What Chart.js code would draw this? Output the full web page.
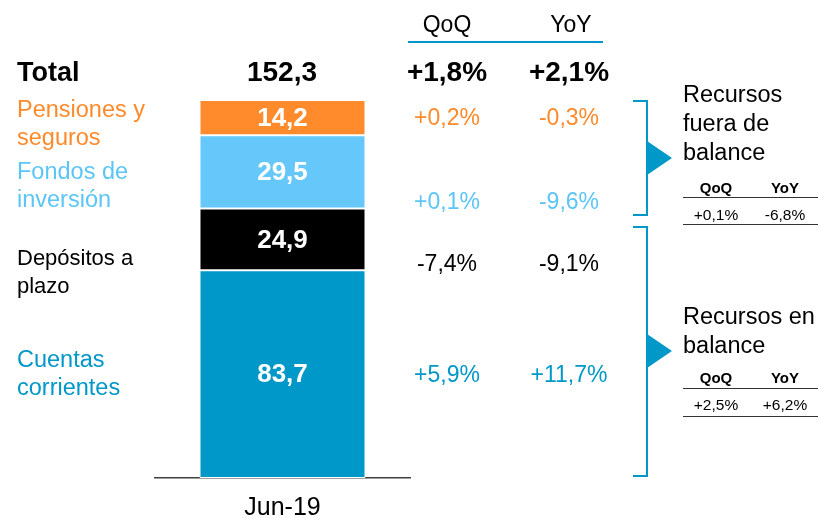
<!DOCTYPE html>
<html>
<head>
<meta charset="utf-8">
<script src="https://cdn.jsdelivr.net/npm/chart.js@4"></script>
<style>
    html, body { margin: 0; padding: 0; background: #fff; }
    #wrap { position: relative; width: 819px; height: 518px; overflow: hidden; font-family: 'Liberation Sans', Arial, sans-serif; }
    #chart { position: absolute; left: 0; top: 0; }
    .t { position: absolute; line-height: 1; white-space: nowrap; transform: translate(0, -50%); }
    .c { transform: translate(-50%, -50%); }
    .rule { position: absolute; height: 0; }
</style>
</head>
<body>
<div id="wrap">
    <canvas id="chart" width="819" height="518"></canvas>
</div>
<script>
// Datos (de abajo hacia arriba en la barra)
const period = ['Jun-19'];
const seriesNames = [['Cuentas', 'corrientes'], ['Depósitos a', 'plazo'], ['Fondos de', 'inversión'], ['Pensiones y', 'seguros']];
const seriesValues = [83.7, 24.9, 29.5, 14.2];
const seriesQoQ = ['+5,9%', '-7,4%', '+0,1%', '+0,2%'];
const seriesYoY = ['+11,7%', '-9,1%', '-9,6%', '-0,3%'];
const totalQoQ = '+1,8%';
const totalYoY = '+2,1%';
const groupNames = [['Recursos', 'fuera de', 'balance'], ['Recursos en', 'balance']];
const groupQoQ = ['+0,1%', '+2,5%'];
const groupYoY = ['-6,8%', '+6,2%'];

// Colores
const colors = ['#0097C9', '#000000', '#66C8FA', '#FF8B2C'];
const textColors = ['#0097C9', '#000000', '#5BC5F7', '#FF8A2A'];
const accent = '#0097C9';

const fmt = v => v.toFixed(1).replace('.', ',');
const total = seriesValues.reduce((a, b) => a + b, 0);

// Posiciones de los textos (centro vertical de cada línea)
const labelY = [[360, 388], [258, 286], [172, 200], [110, 138]];
const labelSize = [23.5, 22, 23.5, 23.5];
const pctY = [374, 263, 201, 117];
const groupY = [[95, 124, 153], [317, 346]];
const miniY = [[187, 198, 215, 225], [377, 389, 405, 417]];

const wrap = document.getElementById('wrap');

function place(text, x, y, style, centered) {
    const d = document.createElement('div');
    d.className = centered ? 't c' : 't';
    d.textContent = text;
    d.style.left = x + 'px';
    d.style.top = y + 'px';
    Object.assign(d.style, style);
    wrap.appendChild(d);
}

function rule(x1, x2, y, w, color) {
    const d = document.createElement('div');
    d.className = 'rule';
    d.style.left = x1 + 'px';
    d.style.width = (x2 - x1) + 'px';
    d.style.top = (y - w / 2) + 'px';
    d.style.borderTop = w + 'px solid ' + color;
    wrap.appendChild(d);
}

// Cabecera
place('QoQ', 447, 24, { fontSize: '23px', color: '#000' }, true);
place('YoY', 571, 24, { fontSize: '23px', color: '#000' }, true);
rule(408, 603, 42, 2.5, accent);

// Fila total
place('Total', 17, 72, { fontSize: '27px', fontWeight: 'bold', color: '#000' });
place(fmt(total), 282, 72, { fontSize: '28px', fontWeight: 'bold', color: '#000' }, true);
place(totalQoQ, 447, 72, { fontSize: '28px', fontWeight: 'bold', color: '#000' }, true);
place(totalYoY, 569, 72, { fontSize: '28px', fontWeight: 'bold', color: '#000' }, true);

// Etiquetas y variaciones por serie
seriesNames.forEach((lines, i) => {
    lines.forEach((line, j) => {
        place(line, 17, labelY[i][j], { fontSize: labelSize[i] + 'px', color: textColors[i] });
    });
    place(seriesQoQ[i], 447, pctY[i], { fontSize: '23px', color: textColors[i] }, true);
    place(seriesYoY[i], 569, pctY[i], { fontSize: '23px', color: textColors[i] }, true);
});

// Grupos de la derecha
groupNames.forEach((lines, g) => {
    lines.forEach((line, j) => {
        place(line, 683, groupY[g][j], { fontSize: '23.5px', color: '#000' });
    });
    const m = miniY[g];
    place('QoQ', 716, m[0], { fontSize: '15px', fontWeight: 'bold', color: '#000' }, true);
    place('YoY', 785, m[0], { fontSize: '15px', fontWeight: 'bold', color: '#000' }, true);
    rule(683, 818, m[1], 1.5, '#333');
    place(groupQoQ[g], 716, m[2], { fontSize: '15.5px', color: '#000' }, true);
    place(groupYoY[g], 785, m[2], { fontSize: '15.5px', color: '#000' }, true);
    rule(683, 818, m[3], 1.5, '#333');
});

// Plugin: valores dentro de la barra y llaves laterales
const decoPlugin = {
    id: 'deco',
    afterDatasetsDraw(chart) {
        const ctx = chart.ctx;
        ctx.save();
        ctx.fillStyle = '#fff';
        ctx.font = 'bold 26px "Liberation Sans", Arial, sans-serif';
        ctx.textAlign = 'center';
        ctx.textBaseline = 'middle';
        chart.data.datasets.forEach((ds, i) => {
            const bar = chart.getDatasetMeta(i).data[0];
            ctx.fillText(fmt(ds.data[0]), bar.x, (bar.y + bar.base) / 2 + 1);
        });

        // Llaves
        const brackets = [[101, 215, 158], [227, 476, 351]];
        ctx.strokeStyle = accent;
        ctx.fillStyle = accent;
        ctx.lineWidth = 2;
        brackets.forEach(([top, bottom, mid]) => {
            ctx.beginPath();
            ctx.moveTo(633, top);
            ctx.lineTo(647, top);
            ctx.lineTo(647, bottom);
            ctx.lineTo(633, bottom);
            ctx.stroke();
            ctx.beginPath();
            ctx.moveTo(647, mid - 17);
            ctx.lineTo(672, mid);
            ctx.lineTo(647, mid + 17);
            ctx.closePath();
            ctx.fill();
        });
        ctx.restore();
    }
};

new Chart(document.getElementById('chart'), {
    type: 'bar',
    data: {
        labels: period,
        datasets: seriesValues.map((v, i) => ({
            label: seriesNames[i].join(' '),
            data: [v],
            backgroundColor: colors[i],
            borderColor: '#ffffff',
            borderWidth: 1,
            borderSkipped: false,
            categoryPercentage: 1,
            barPercentage: 0.651
        }))
    },
    options: {
        responsive: false,
        animation: false,
        layout: { padding: { left: 155, right: 409, top: 100, bottom: 0 } },
        plugins: { legend: { display: false }, tooltip: { enabled: false } },
        scales: {
            x: {
                stacked: true,
                grid: { display: false, drawTicks: false },
                border: { display: true, color: '#404040', width: 1.5 },
                ticks: { color: '#000', padding: 15, font: { size: 25, family: "'Liberation Sans', Arial, sans-serif" } },
                afterFit: s => { s.height = 40; }
            },
            y: {
                stacked: true,
                display: false,
                min: 0,
                max: total
            }
        }
    },
    plugins: [decoPlugin]
});
</script>
</body>
</html>
